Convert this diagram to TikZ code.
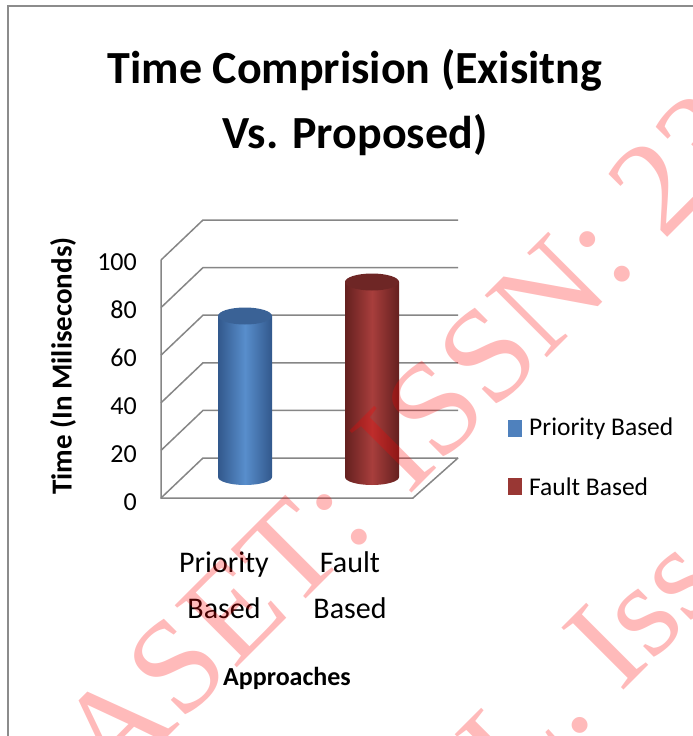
\documentclass[tikz,border=0pt]{standalone}
\usepackage{fontspec}
\setmainfont{Carlito}
\newfontfamily\wmfont{Liberation Serif}
\usetikzlibrary{positioning, calc}

\definecolor{gridgray}{RGB}{134,134,134}
\definecolor{framegray}{RGB}{140,140,140}
\definecolor{barblue}{RGB}{88,142,204}
\definecolor{barbluedark}{RGB}{50,88,140}
\definecolor{bluetop}{RGB}{58,98,150}
\definecolor{barred}{RGB}{168,62,60}
\definecolor{barreddark}{RGB}{100,32,31}
\definecolor{redtop}{RGB}{110,38,37}
\definecolor{legblue}{RGB}{79,129,189}
\definecolor{legred}{RGB}{153,55,52}

\begin{document}
\begin{tikzpicture}[x=1pt, y=-1pt,
    grid/.style={gridgray, line width=1.5pt},
    ticklabel/.style={anchor=east, inner sep=0pt, font=\fontsize{26}{26}\selectfont},
    catlabel/.style={align=center, inner sep=0pt, font=\fontsize{30}{46}\selectfont},
    legtext/.style={anchor=west, inner sep=0pt, font=\fontsize{25.5}{26}\selectfont},
    wmark/.style={inner sep=0pt, text=red, text opacity=0.27, rotate=45,
        font=\wmfont\fontsize{134}{134}\selectfont}]
    \path[use as bounding box, clip] (0,0) rectangle (693,736);
    \fill[white] (0,0) rectangle (693,736);

    % chart frame
    \draw[framegray, line width=2pt] (8,6) rectangle (720,760);

    % title
    \node[align=center, inner sep=0pt, font=\bfseries\fontsize{46}{65}\selectfont] (title) at (355,103)
        {Time Comprision (Exisitng\\Vs. Proposed)};

    % walls and gridlines
    \foreach \i in {0,...,5} {
        \draw[grid] (161,498-\i*47.6) -- (203,458-\i*47.6) -- (458,458-\i*47.6);
    }
    \draw[grid] (161,260) -- (161,498) -- (413,498) -- (458,458);

    % tick labels
    \foreach \v [count=\i from 0] in {0,20,40,60,80,100} {
        \node[ticklabel] (tick\v) at (137,502-\i*48) {\v};
    }
    \node[rotate=90, inner sep=0pt, font=\bfseries\fontsize{29}{29}\selectfont] (ytitle) at (63,366)
        {Time (In Miliseconds)};

    % cylinders
    \foreach \cx/\top/\side/\mid/\cap in {245/316/barbluedark/barblue/bluetop, 372/282/barreddark/barred/redtop} {
        \shade[left color=\side, right color=\side, middle color=\mid]
            (\cx-27,\top) -- (\cx-27,477) arc[start angle=180, end angle=0, x radius=27, y radius=8]
            -- (\cx+27,\top) -- cycle;
        \fill[\cap] (\cx,\top) ellipse[x radius=27, y radius=8.5];
    }

    % category labels
    \node[catlabel] (catprio) at (224,585) {Priority\\Based};
    \node[catlabel] (catfault) at (350,585) {Fault\\Based};
    \node[inner sep=0pt, font=\bfseries\fontsize{26}{26}\selectfont] (xtitle) at (287,678) {Approaches};

    % legend
    \fill[legblue] (508,420) rectangle (522,437);
    \node[legtext] (legprio) at (529,429) {Priority Based};
    \fill[legred] (508,478) rectangle (522,495);
    \node[legtext] (legfault) at (529,487) {Fault Based};

    % watermark
    \coordinate (wm1) at (350,555);
    \node[wmark, anchor=base east] (wmleft) at (wm1) {IJRASET};
    \node[wmark, anchor=base west] (wmright) at (wm1) {: ISSN: 2321-9653};
    \coordinate (wm2) at (620,694);
    \node[wmark, anchor=base west] (wmiss) at (wm2) {Iss};
    \node[wmark, anchor=base east] (wmal) at ($(wm2)+(-24,24)$) {L.};
\end{tikzpicture}
\end{document}
